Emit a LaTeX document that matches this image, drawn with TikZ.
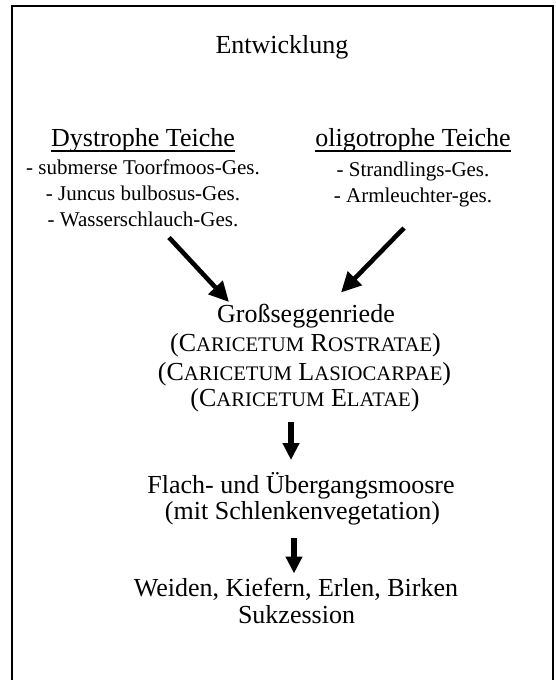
\documentclass[tikz,border=0pt]{standalone}
\usepackage{fontspec}
\setmainfont{Liberation Serif}
\usetikzlibrary{arrows.meta}
\newcommand\fakesc[1]{{\fontsize{20.7}{24}\selectfont #1}}
\tikzset{
  big/.style={anchor=base, inner sep=0pt, font=\fontsize{26}{30}\selectfont},
  item/.style={anchor=base, inner sep=0pt, font=\fontsize{21}{25}\selectfont},
  diagarrow/.style={line width=4.6pt, -{Triangle[length=20pt,width=19pt]}},
  downarrow/.style={line width=6pt, -{Triangle[length=17pt,width=16pt]}},
  uline/.style={line width=1.6pt},
  frame/.style={line width=2pt}
}
\begin{document}
\begin{tikzpicture}[x=1pt,y=-1pt]
\useasboundingbox (0,0) rectangle (555,680);
\clip (0,0) rectangle (555,680);
\draw[frame] (12,700) -- (12,6) -- (553,6) -- (553,700);

\node[big] (title) at (282,53) {Entwicklung};

\node[big] (dys) at (143,146.7) {Dystrophe Teiche};
\draw[uline] ([yshift=-4pt]dys.base west) -- ([yshift=-4pt]dys.base east);
\node[item] (d1) at (143,174) {- submerse Toorfmoos-Ges.};
\node[item] (d2) at (143,200.3) {- Juncus bulbosus-Ges.};
\node[item] (d3) at (143,226.7) {- Wasserschlauch-Ges.};

\node[big] (oli) at (413,146.7) {oligotrophe Teiche};
\draw[uline] ([yshift=-4.5pt]oli.base west) -- ([yshift=-4.5pt]oli.base east);
\node[item] (o1) at (413,176) {- Strandlings-Ges.};
\node[item] (o2) at (413,202) {- Armleuchter-ges.};

\node[big] (gross) at (306,322.7) {Großseggenriede};
\node[big] (c1) at (305.5,351.7) {(C\fakesc{ARICETUM} R\fakesc{OSTRATAE})};
\node[big] (c2) at (304.5,380) {(C\fakesc{ARICETUM} L\fakesc{ASIOCARPAE})};
\node[big] (c3) at (305,406.7) {(C\fakesc{ARICETUM} E\fakesc{LATAE})};

\node[big] (flach) at (301,493.3) {Flach- und Übergangsmoosre};
\node[big] (mit) at (302.5,519) {(mit Schlenkenvegetation)};

\node[big] (weiden) at (296,596.7) {Weiden, Kiefern, Erlen, Birken};
\node[big] (sukz) at (296.5,623) {Sukzession};

\coordinate (a1s) at (169,237.5);
\coordinate (a1e) at (229,302);
\coordinate (a2s) at (404,228);
\coordinate (a2e) at (341,292.5);
\coordinate (a3s) at (291,422);
\coordinate (a3e) at (291,460);
\coordinate (a4s) at (294,538);
\coordinate (a4e) at (294,573.5);

\draw[diagarrow] (a1s) -- (a1e);
\draw[diagarrow] (a2s) -- (a2e);
\draw[downarrow] (a3s) -- (a3e);
\draw[downarrow] (a4s) -- (a4e);
\end{tikzpicture}
\end{document}
